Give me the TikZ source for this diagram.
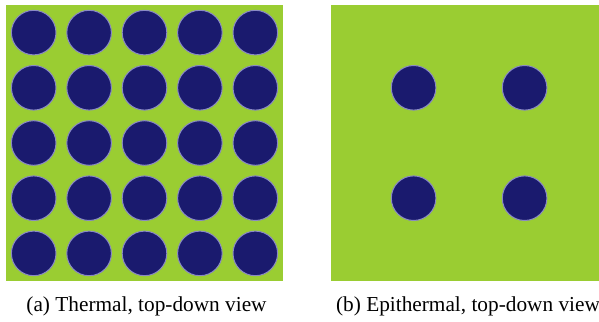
\documentclass[tikz,border=0pt]{standalone}
\usepackage{fontspec}
\setmainfont{Liberation Serif}
\definecolor{moder}{HTML}{9ACD32}
\definecolor{fuel}{HTML}{1A1A6E}
\definecolor{rim}{HTML}{8A8AC4}
\begin{document}
\begin{tikzpicture}[x=1pt,y=-1pt,
  pin/.style={circle,fill=fuel,draw=rim,line width=1pt,minimum size=44.6pt,inner sep=0pt},
  cell/.style={fill=moder,draw=none},
  captext/.style={font=\fontsize{21.3}{24}\selectfont,inner sep=0pt,anchor=base}]
\useasboundingbox (0,0) rectangle (599,321);
\fill[cell] (6,5) rectangle (283,281);
\fill[cell] (331,5) rectangle (607,281);
\foreach \i in {0,...,4}{
  \foreach \j in {0,...,4}{
    \node[pin] (a\i\j) at ({6+(\i+0.5)*55.4},{5+(\j+0.5)*55.2}) {};
  }
}
\foreach \i/\x in {0/413.6,1/524.6}{
  \foreach \j/\y in {0/87.8,1/198.2}{
    \node[pin] (b\i\j) at (\x,\y) {};
  }
}
\node[captext] (capa) at (146.5,311) {(a) Thermal, top-down view};
\node[captext] (capb) at (468,311) {(b) Epithermal, top-down view};
\end{tikzpicture}
\end{document}
